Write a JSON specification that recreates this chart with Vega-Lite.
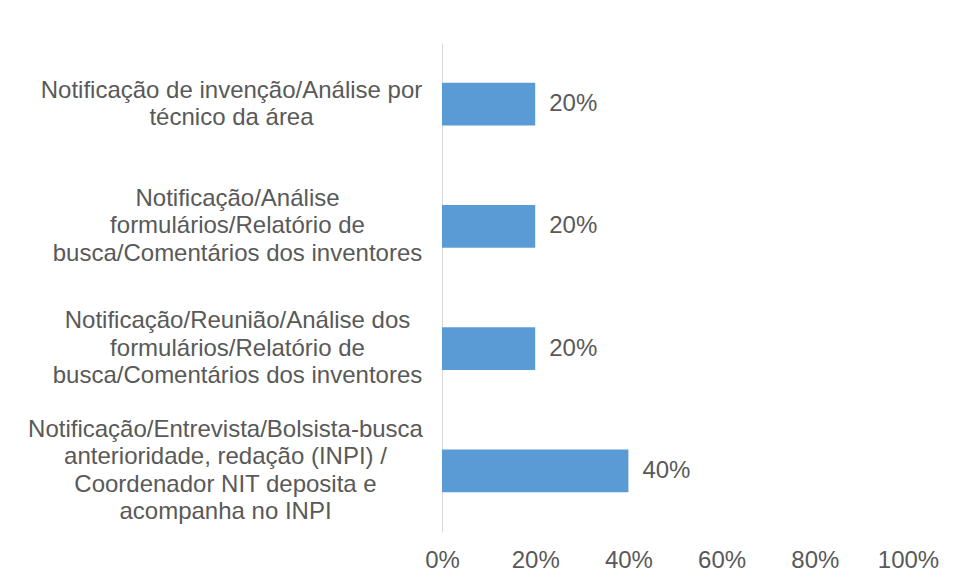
{
  "$schema": "https://vega.github.io/schema/vega-lite/v6.json",
  "autosize": {"type": "none"},
  "padding": {"left": 442, "top": 43, "right": 51, "bottom": 51},
  "width": 466,
  "height": 489,
  "background": "white",
  "config": {
    "view": {"stroke": null},
    "font": "Liberation Sans"
  },
  "data": {
    "values": [
      {"cat": "Notificação de invenção/Análise por|técnico da área", "value": 0.2},
      {"cat": "Notificação/Análise|formulários/Relatório de|busca/Comentários dos inventores", "value": 0.2},
      {"cat": "Notificação/Reunião/Análise dos|formulários/Relatório de|busca/Comentários dos inventores", "value": 0.2},
      {"cat": "Notificação/Entrevista/Bolsista-busca|anterioridade, redação (INPI) /|Coordenador NIT deposita e|acompanha no INPI", "value": 0.4}
    ]
  },
  "encoding": {
    "y": {
      "field": "cat",
      "type": "nominal",
      "sort": null,
      "scale": {"paddingInner": 0.65, "paddingOuter": 0.325},
      "axis": {
        "title": null,
        "ticks": false,
        "domain": true,
        "domainColor": "#D9D9D9",
        "domainWidth": 1,
        "labelExpr": "split(datum.label, '|')",
        "labelAlign": "center",
        "labelBaseline": "middle",
        "labelPadding": {
          "condition": [
            {"test": "indexof(datum.value, 'técnico') >= 0", "value": 211},
            {"test": "indexof(datum.value, 'INPI') >= 0", "value": 217}
          ],
          "value": 205
        },
        "labelOffset": {
          "condition": [
            {"test": "indexof(datum.value, 'técnico') >= 0", "value": -13.5},
            {"test": "indexof(datum.value, 'INPI') >= 0", "value": -41}
          ],
          "value": -27.5
        },
        "labelLimit": 600,
        "labelFontSize": 24,
        "labelLineHeight": 27.5,
        "labelColor": "#595959",
        "labelFont": "Liberation Sans"
      }
    },
    "x": {
      "field": "value",
      "type": "quantitative",
      "scale": {"domain": [0, 1], "nice": false},
      "axis": {
        "title": null,
        "format": ".0%",
        "values": [0, 0.2, 0.4, 0.6, 0.8, 1],
        "grid": false,
        "ticks": false,
        "domain": false,
        "labelPadding": 16,
        "labelFontSize": 24,
        "labelColor": "#595959",
        "labelFont": "Liberation Sans",
        "labelFlush": false
      }
    }
  },
  "layer": [
    {"mark": {"type": "bar", "color": "#5B9BD5"}},
    {
      "mark": {"type": "text", "align": "left", "baseline": "middle", "dx": 14, "fontSize": 24, "color": "#595959", "font": "Liberation Sans"},
      "encoding": {"text": {"field": "value", "type": "quantitative", "format": ".0%"}}
    }
  ]
}
